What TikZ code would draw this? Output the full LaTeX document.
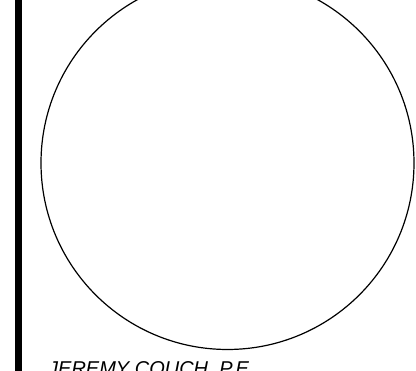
\documentclass[tikz,border=0pt]{standalone}
\usepackage{fontspec}
\setmainfont{Liberation Sans}
\usepackage{tikz}
\usetikzlibrary{calc, positioning}

\begin{document}
\begin{tikzpicture}[
  x=1pt, y=1pt,
  sealring/.style={draw=black, line width=1.2pt, circle, minimum size=373pt, inner sep=0pt},
  rule/.style={fill=black, draw=none},
  stamp/.style={font=\fontsize{20}{24}\selectfont\itshape, inner sep=0pt, anchor=base west}
]
\useasboundingbox (0,0) rectangle (416,371);
\fill[white] (0,0) rectangle (416,371);
\fill[rule] (15,0) rectangle (22.3,371);
\node[sealring] (seal) at (227.5,208) {};
\node[stamp] (engineer) at (48,-5) {JEREMY COUCH, P.E.};
\end{tikzpicture}
\end{document}
